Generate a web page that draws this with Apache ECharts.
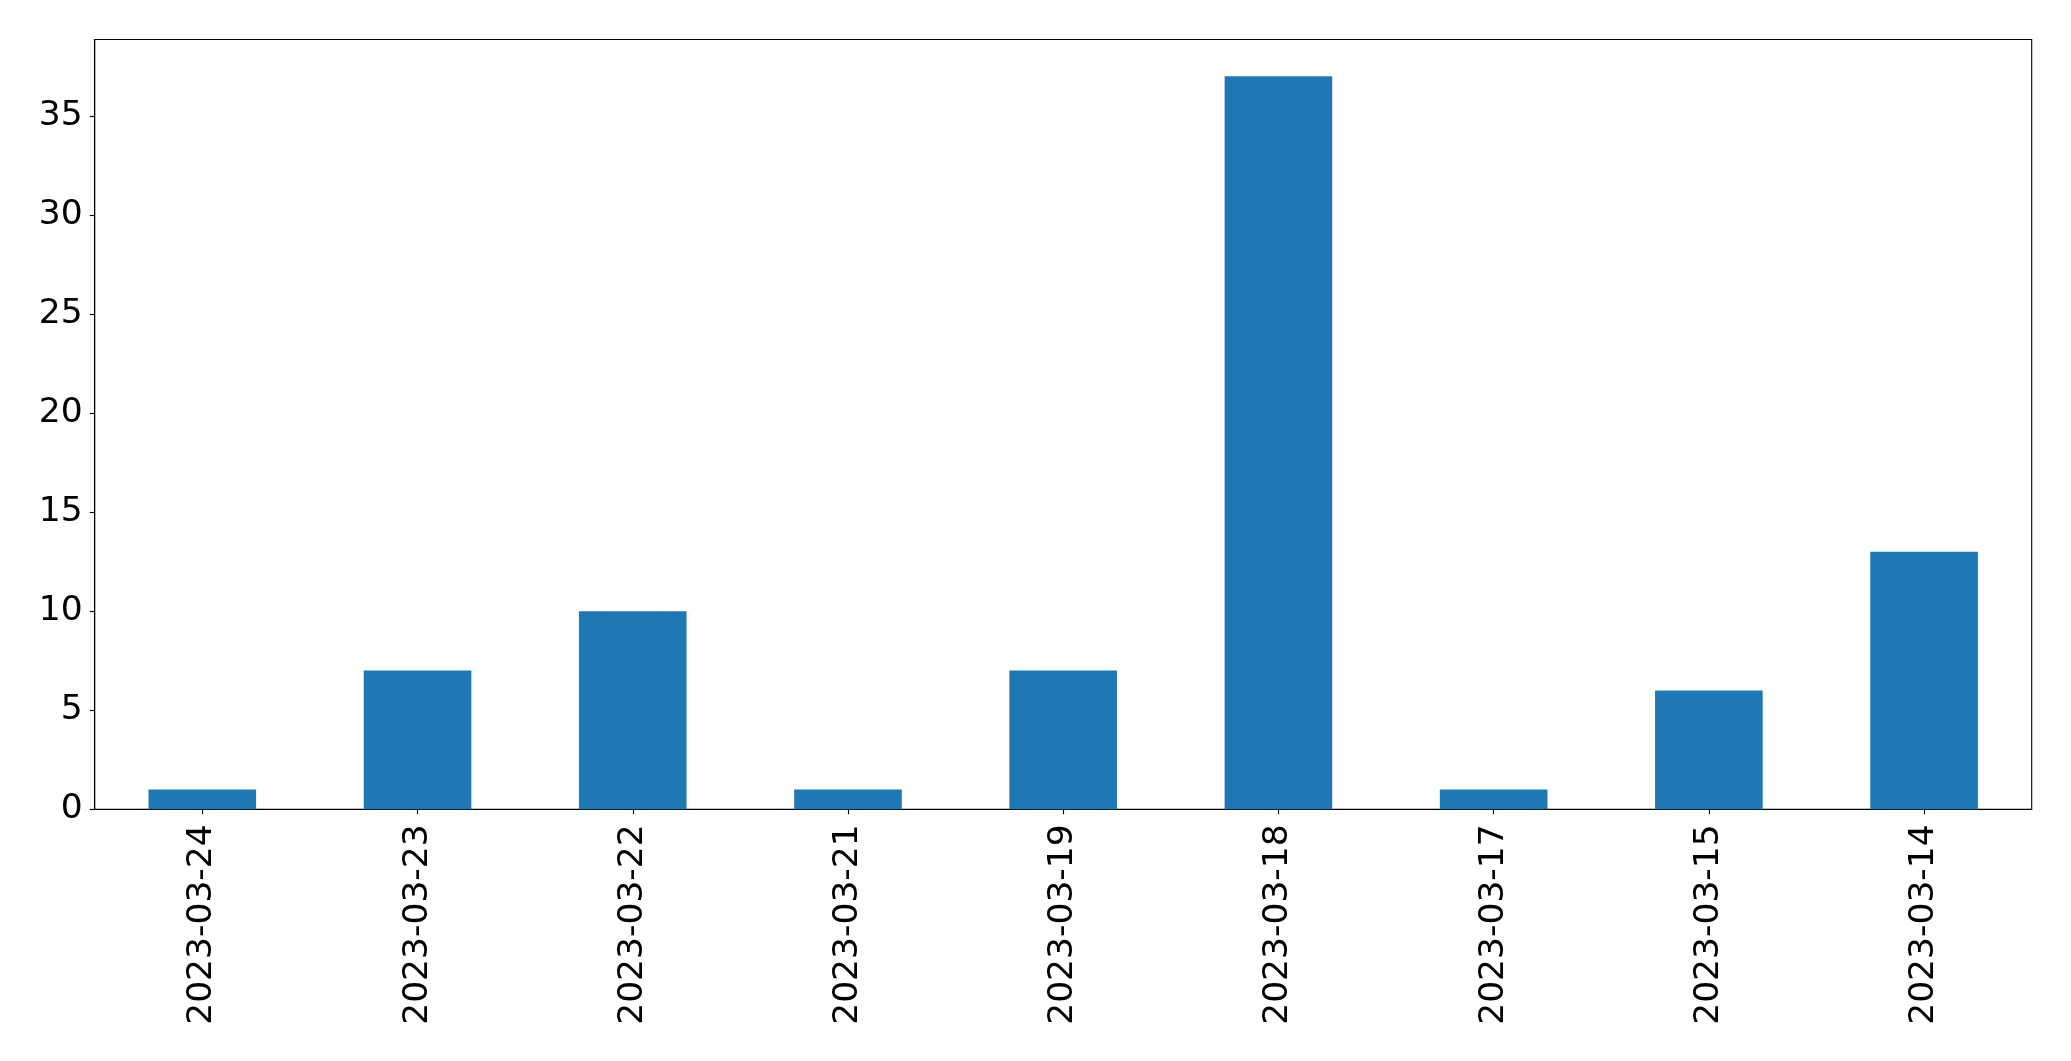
<!DOCTYPE html>
<html>
<head>
<meta charset="utf-8">
<script src="https://cdn.jsdelivr.net/npm/echarts@6/dist/echarts.min.js"></script>
<style>
html,body{margin:0;padding:0;background:#fff;}
#chart{width:2071px;height:1061px;}
</style>
</head>
<body>
<div id="chart"></div>
<script>
const categories = ['2023-03-24','2023-03-23','2023-03-22','2023-03-21','2023-03-19','2023-03-18','2023-03-17','2023-03-15','2023-03-14'];
const values = [1, 7, 10, 1, 7, 37, 1, 6, 13];
const yTicks = [0, 5, 10, 15, 20, 25, 30, 35];

const chart = echarts.init(document.getElementById('chart'), null, {renderer: 'canvas'});
const font = 'DejaVu Sans';
chart.setOption({
  animation: false,
  backgroundColor: '#ffffff',
  grid: {
    left: 94.7, top: 39.5, right: 39.3, bottom: 251.7,
    show: true, borderColor: '#000000', borderWidth: 1.1, backgroundColor: 'transparent'
  },
  xAxis: {
    type: 'category',
    data: categories,
    boundaryGap: true,
    axisLine: {show: true, lineStyle: {color: '#000', width: 1.1}},
    axisTick: {show: true, alignWithLabel: true, length: 5, lineStyle: {color: '#000', width: 1.1}},
    axisLabel: {rotate: 90, margin: 15, color: '#000', fontSize: 34.5, fontFamily: font, interval: 0},
    splitLine: {show: false}
  },
  yAxis: {
    type: 'value',
    min: 0,
    max: 38.85,
    interval: 5,
    axisLine: {show: true, lineStyle: {color: '#000', width: 1.1}},
    axisTick: {show: true, length: 5, lineStyle: {color: '#000', width: 1.1}, customValues: yTicks},
    axisLabel: {margin: 12, color: '#000', fontSize: 34.5, fontFamily: font, customValues: yTicks},
    splitLine: {show: false}
  },
  series: [{
    type: 'bar',
    data: values,
    barWidth: '50%',
    itemStyle: {color: '#1f77b4'}
  }]
});
</script>
</body>
</html>
